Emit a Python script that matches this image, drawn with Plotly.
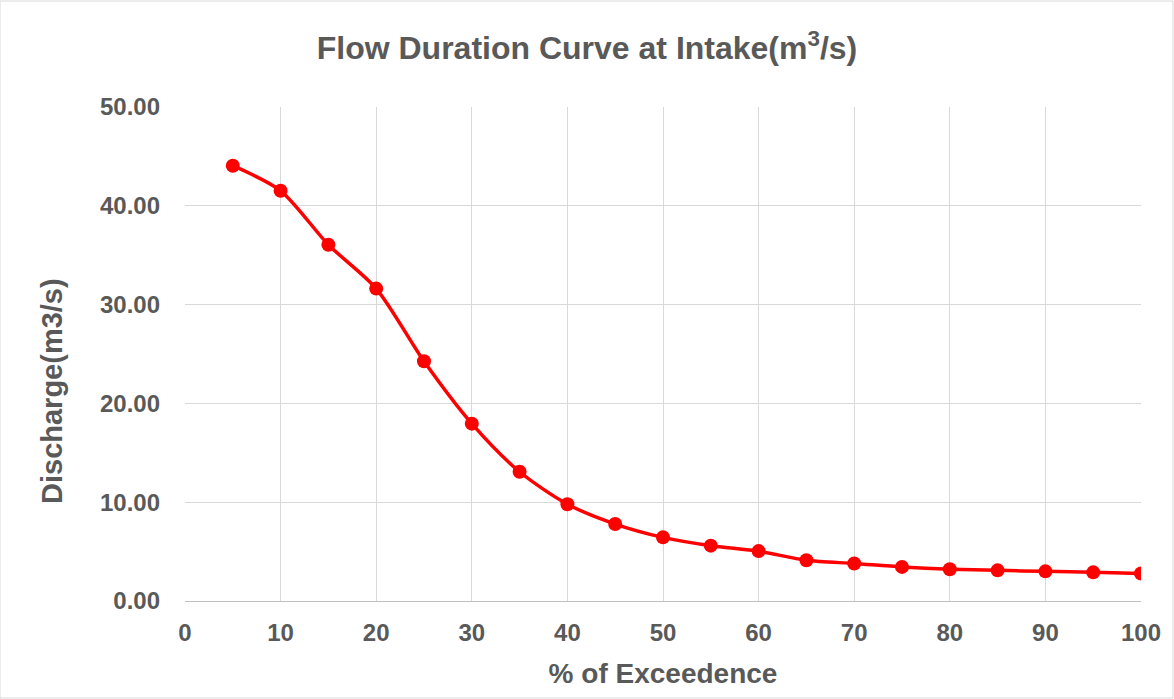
import plotly.graph_objects as go

exceedence = [5, 10, 15, 20, 25, 30, 35, 40, 45, 50, 55, 60, 65, 70, 75, 80, 85, 90, 95, 100]
discharge = [44.06, 41.52, 36.06, 31.62, 24.26, 17.95, 13.08, 9.80, 7.79, 6.44, 5.60, 5.05,
             4.12, 3.80, 3.45, 3.22, 3.10, 3.00, 2.90, 2.78]

x_ticks = [0, 10, 20, 30, 40, 50, 60, 70, 80, 90, 100]
y_ticks = [0, 10, 20, 30, 40, 50]
y_tick_labels = ["0.00", "10.00", "20.00", "30.00", "40.00", "50.00"]

title_text = "Flow Duration Curve at Intake(m<sup>3</sup>/s)"
x_title = "% of Exceedence"
y_title = "Discharge(m3/s)"

grey = "#595959"
font_family = "Liberation Sans, Arial, sans-serif"

fig = go.Figure()
fig.add_trace(go.Scatter(
    x=exceedence, y=discharge,
    mode="lines+markers",
    line=dict(color="#ff0000", width=3.5, shape="spline", smoothing=0.8),
    marker=dict(color="#ff0000", size=14),
    showlegend=False,
))

fig.update_layout(
    width=1174, height=699,
    paper_bgcolor="white", plot_bgcolor="white",
    margin=dict(l=185, r=33, t=107, b=98),
    title=dict(text=f"<b>{title_text}</b>", x=0.5, xanchor="center", y=0.931, yanchor="middle",
               font=dict(family=font_family, size=32, color=grey)),
    font=dict(family=font_family, color=grey),
    xaxis=dict(
        range=[0, 100], tickvals=x_ticks, ticktext=[f"<b>{v}</b>" for v in x_ticks],
        showgrid=True, gridcolor="#d9d9d9", gridwidth=1.3,
        showline=True, linecolor="#bfbfbf", linewidth=1.3,
        zeroline=False, ticks="", ticklabelstandoff=10,
        tickfont=dict(family=font_family, size=24, color=grey),
        title=dict(text=f"<b>{x_title}</b>", font=dict(family=font_family, size=28, color=grey), standoff=18),
    ),
    yaxis=dict(
        range=[0, 50], tickvals=y_ticks, ticktext=[f"<b>{t}</b>" for t in y_tick_labels],
        showgrid=True, gridcolor="#d9d9d9", gridwidth=1.3,
        showline=False, zeroline=False, ticks="", ticklabelstandoff=24,
        tickfont=dict(family=font_family, size=24, color=grey),
    ),
    annotations=[dict(text=f"<b>{y_title}</b>", xref="paper", yref="paper",
                      x=(52 - 185) / 956, y=(601 - 391) / 494, xanchor="center", yanchor="middle",
                      textangle=-90, showarrow=False,
                      font=dict(family=font_family, size=29, color=grey))],
    shapes=[dict(type="rect", xref="paper", yref="paper", x0=-185/956, x1=1 + 32/956, y0=-97/494, y1=1 + 106/494,
                 line=dict(color="#d9d9d9", width=1))],
)

fig.write_html("out.html")
